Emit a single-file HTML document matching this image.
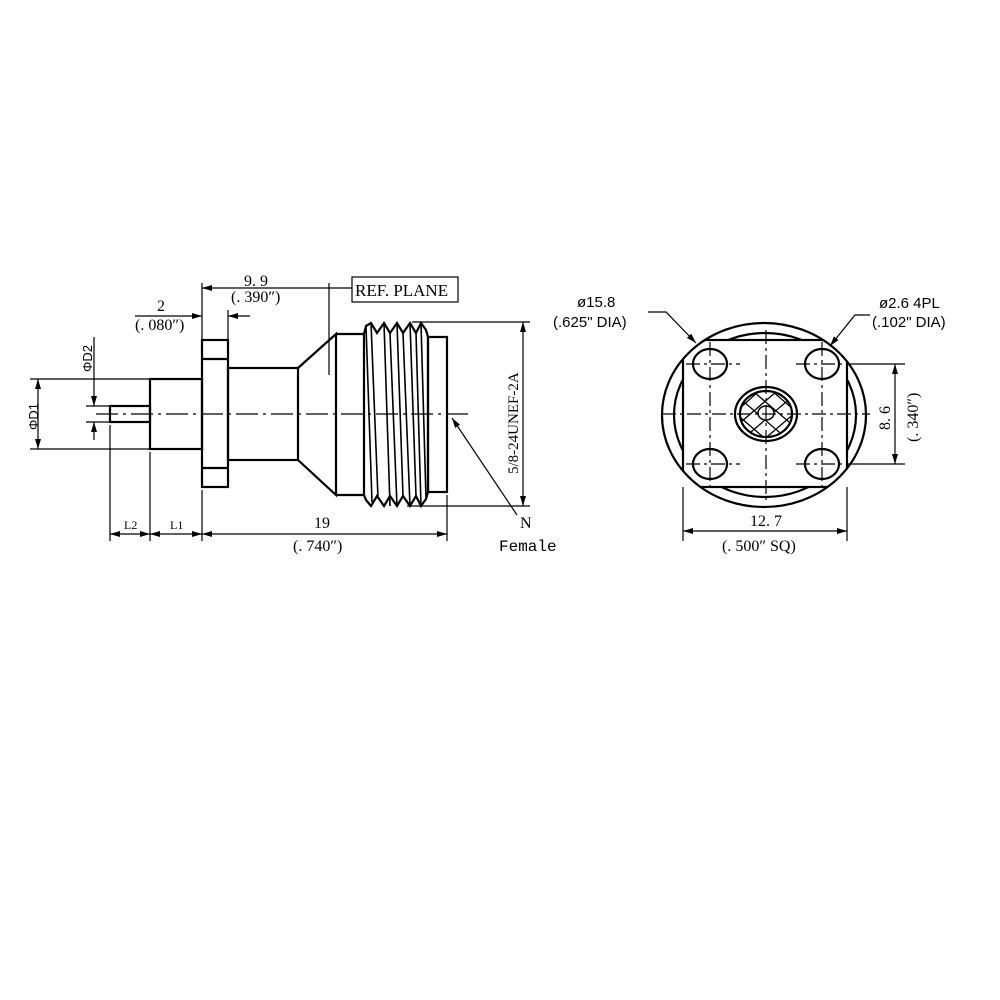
<!DOCTYPE html>
<html><head><meta charset="utf-8"><style>body{margin:0;background:#fff}svg{display:block}text{font-family:"Liberation Serif",serif;fill:#000}text.s{font-family:"Liberation Sans",sans-serif}text.m{font-family:"Liberation Mono",monospace}</style></head><body>
<svg width="1000" height="1000" viewBox="0 0 1000 1000" xmlns="http://www.w3.org/2000/svg">
<defs>
<marker id="a" viewBox="0 0 10 6" refX="10" refY="3" markerWidth="10" markerHeight="6" orient="auto-start-reverse" markerUnits="userSpaceOnUse"><path d="M0,0L10,3L0,6z" fill="#000"/></marker>
<clipPath id="oc"><ellipse cx="764" cy="415" rx="102" ry="92"/></clipPath>
<clipPath id="cc"><ellipse cx="766" cy="414" rx="26" ry="23"/></clipPath>
</defs>
<g stroke="#000" fill="none" stroke-width="2.2">
<rect x="110" y="406" width="40" height="16"/>
<rect x="150" y="379" width="52" height="70"/>
<rect x="202" y="340" width="26" height="147"/>
<line x1="202" y1="359" x2="228" y2="359"/><line x1="202" y1="468" x2="228" y2="468"/>
<rect x="228" y="368" width="70" height="92"/>
<path d="M298,368L336,334L336,495L298,460"/>
<path d="M336,334H364M336,495H364"/>
<path d="M364,334L366,326L371,323L377,333L384,323L390,333L397,323L403,333L410,323L416,333L421,323L426,330L428,337V492L426,499L421,506L416,496L410,506L403,496L397,506L390,496L384,506L377,496L371,506L366,500L364,495V334"/>
<rect x="428" y="337" width="19" height="155"/>
</g>
<g stroke="#000" fill="none" stroke-width="1.6">
<path d="M366,326L372,502M371,323L378,498M384,323L390,506M390,333L397,506M397,323L403,496M403,333L410,506M410,323L416,496M416,333L421,506M421,323L426,499"/>
</g>
<g stroke="#000" fill="none" stroke-width="1.2">
<line x1="96" y1="414" x2="470" y2="414" stroke-dasharray="22,5,3,5"/>
<line x1="202" y1="283" x2="202" y2="340"/>
<line x1="202" y1="288" x2="352" y2="288" marker-start="url(#a)"/>
<line x1="329" y1="283" x2="329" y2="375"/>
<line x1="228" y1="310" x2="228" y2="340"/>
<line x1="135" y1="316" x2="202" y2="316" marker-end="url(#a)"/>
<line x1="250" y1="316" x2="228" y2="316" marker-end="url(#a)"/>
<line x1="30" y1="379" x2="150" y2="379"/><line x1="30" y1="449" x2="150" y2="449"/>
<line x1="38" y1="379" x2="38" y2="449" marker-start="url(#a)" marker-end="url(#a)"/>
<line x1="86" y1="406" x2="110" y2="406"/><line x1="86" y1="422" x2="110" y2="422"/>
<line x1="94" y1="337" x2="94" y2="406" marker-end="url(#a)"/>
<line x1="94" y1="440" x2="94" y2="422" marker-end="url(#a)"/>
<line x1="110" y1="425" x2="110" y2="541"/><line x1="150" y1="452" x2="150" y2="541"/>
<line x1="202" y1="490" x2="202" y2="541"/><line x1="447" y1="495" x2="447" y2="541"/>
<line x1="110" y1="534" x2="150" y2="534" marker-start="url(#a)" marker-end="url(#a)"/>
<line x1="150" y1="534" x2="202" y2="534" marker-start="url(#a)" marker-end="url(#a)"/>
<line x1="202" y1="534" x2="447" y2="534" marker-start="url(#a)" marker-end="url(#a)"/>
<line x1="412" y1="322" x2="530" y2="322"/><line x1="407" y1="506" x2="530" y2="506"/>
<line x1="523" y1="322" x2="523" y2="506" marker-start="url(#a)" marker-end="url(#a)"/>
<line x1="517" y1="515" x2="452" y2="418" marker-end="url(#a)"/>
<rect x="352" y="277" width="106" height="25"/>
</g>
<g font-size="16">
<text x="244" y="286">9. 9</text><text x="231" y="302">(. 390″)</text>
<text x="157" y="311">2</text><text x="135" y="330">(. 080″)</text>
<text x="355" y="296" font-size="17">REF. PLANE</text>
<text x="124" y="529" font-size="12">L2</text><text x="170" y="529" font-size="12">L1</text>
<text x="314" y="528">19</text><text x="293" y="551">(. 740″)</text>
<text x="520" y="528">N</text><text class="m" x="499" y="551" font-size="16">Female</text>
<text transform="translate(518,474) rotate(-90)" font-size="15">5/8-24UNEF-2A</text>
<text class="s" transform="translate(92,372) rotate(-90)" font-size="13">ΦD2</text>
<text class="s" transform="translate(38,430) rotate(-90)" font-size="13">ΦD1</text>
</g>
<g stroke="#000" fill="none" stroke-width="2.2">
<ellipse cx="765" cy="415" rx="91" ry="82"/>
<rect x="683" y="340" width="164" height="147" fill="#fff" clip-path="url(#oc)"/>
<ellipse cx="764" cy="415" rx="102" ry="92"/>
<ellipse cx="710" cy="364" rx="17" ry="15"/><ellipse cx="822" cy="364" rx="17" ry="15"/>
<ellipse cx="710" cy="464" rx="17" ry="15"/><ellipse cx="822" cy="464" rx="17" ry="15"/>
<ellipse cx="766" cy="414" rx="31" ry="27"/>
<ellipse cx="766" cy="414" rx="26" ry="23"/>
</g>
<g clip-path="url(#cc)" stroke="#000" stroke-width="1.3">
<path d="M730,390L800,450M740,380L810,440M720,400L790,460M750,372L815,428M718,412L780,466M730,450L800,390M740,460L810,400M720,440L790,380M718,428L780,372M752,466L814,410"/>
</g>
<ellipse cx="766" cy="413" rx="8" ry="7" stroke="#000" stroke-width="1.5" fill="#fff"/>
<g stroke="#000" fill="none" stroke-width="1.2" stroke-dasharray="14,4,3,4">
<line x1="662" y1="414" x2="870" y2="414"/><line x1="766" y1="330" x2="766" y2="500"/>
<line x1="686" y1="364" x2="740" y2="364"/><line x1="796" y1="364" x2="850" y2="364"/>
<line x1="686" y1="464" x2="740" y2="464"/><line x1="796" y1="464" x2="850" y2="464"/>
<line x1="710" y1="342" x2="710" y2="488"/><line x1="822" y1="342" x2="822" y2="488"/>
</g>
<g stroke="#000" fill="none" stroke-width="1.2">
<line x1="850" y1="364" x2="905" y2="364"/><line x1="850" y1="464" x2="905" y2="464"/>
<line x1="895" y1="364" x2="895" y2="464" marker-start="url(#a)" marker-end="url(#a)"/>
<line x1="683" y1="487" x2="683" y2="541"/><line x1="847" y1="487" x2="847" y2="541"/>
<line x1="683" y1="531" x2="847" y2="531" marker-start="url(#a)" marker-end="url(#a)"/>
<polyline points="648,312 666,312 696,343" marker-end="url(#a)"/>
<polyline points="870,315 855,315 830,346" marker-end="url(#a)"/>
</g>
<g font-size="16">
<text x="750" y="526">12. 7</text><text x="722" y="551">(. 500″ SQ)</text>
<text transform="translate(890,430) rotate(-90)">8. 6</text>
<text transform="translate(918,442) rotate(-90)">(. 340″)</text>
<text class="s" x="577" y="307" font-size="15">ø15.8</text><text class="s" x="553" y="327" font-size="15">(.625"  DIA)</text>
<text class="s" x="879" y="308" font-size="15">ø2.6  4PL</text><text class="s" x="872" y="327" font-size="15">(.102"  DIA)</text>
</g>
</svg>
</body></html>
